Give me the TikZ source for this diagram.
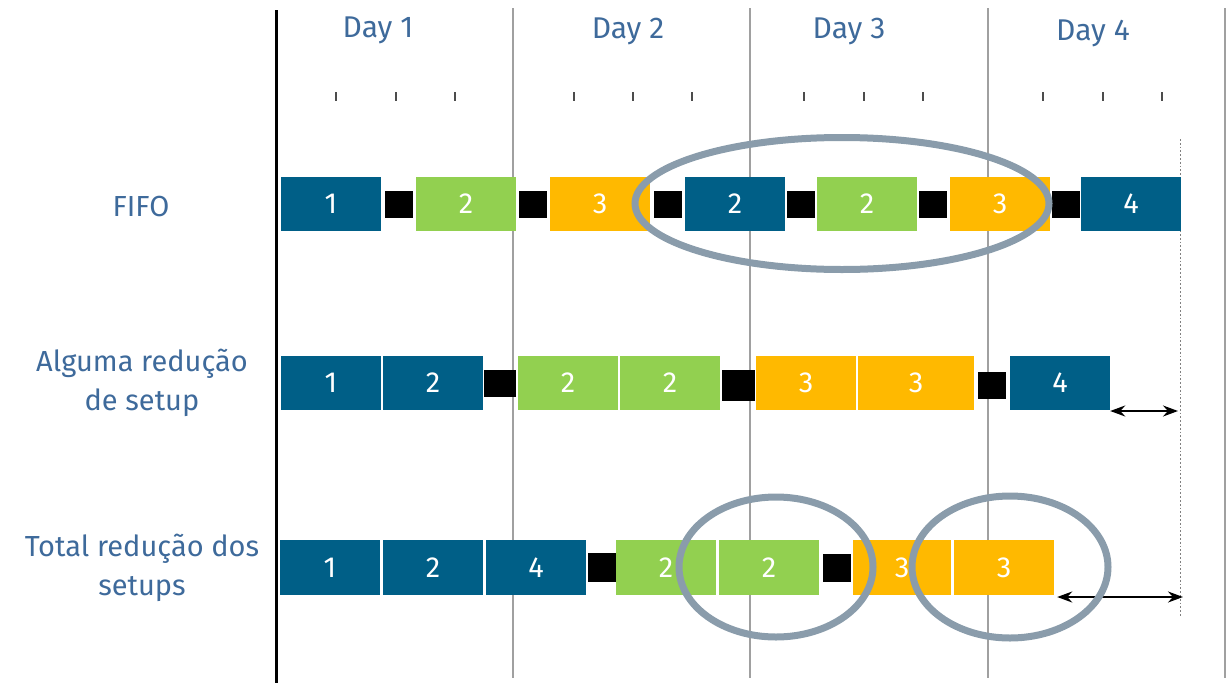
\documentclass[tikz,border=0pt]{standalone}
\usepackage{fontspec}
\setmainfont{Fira Sans}
\usetikzlibrary{arrows.meta,positioning}
\definecolor{petrol}{RGB}{0,95,135}
\definecolor{lime}{RGB}{146,208,80}
\definecolor{gold}{RGB}{255,185,0}
\definecolor{slate}{RGB}{138,156,171}
\definecolor{txtblue}{RGB}{62,106,155}
\definecolor{rule}{RGB}{160,160,160}
\tikzset{
  >={Stealth[length=15pt,width=11pt]},
  job/.style={fill=#1,inner sep=0pt,minimum width=100pt,minimum height=54pt,
    text=white,font=\fontsize{29}{32}\selectfont},
  job/.default=petrol,
  setup/.style={fill=black,inner sep=0pt,minimum width=28pt,minimum height=27pt},
  ring/.style={draw=slate,line width=7pt},
  rowname/.style={text=txtblue,align=center,font=\fontsize{29}{39}\selectfont},
  dayname/.style={text=txtblue,font=\fontsize{30}{32}\selectfont},
  dayline/.style={draw=rule,line width=2pt},
  tick/.style={draw=black!70,line width=1.3pt},
  gap/.style={<->,line width=1.8pt}
}
\begin{document}
\begin{tikzpicture}[x=1pt,y=-1pt]
  \useasboundingbox (0,0) rectangle (1226,683);
  % grid of days
  \foreach \x in {513,750,988,1224.5} \draw[dayline] (\x,8) -- (\x,678);
  \draw[line width=3pt] (276,10) -- (276,683);
  \draw[rule!80!black,dotted,line width=1.8pt] (1180.5,139) -- (1180.5,617);
  \foreach \d/\x/\y in {1/378/30,2/628/31,3/849/31,4/1093/33} \node[dayname] (day\d) at (\x,\y) {Day \d};
  \foreach \x in {336,396,455,574,633,692,804,864,923,1043,1103,1162} \draw[tick] (\x,92) -- (\x,101);
  % row names
  \node[rowname] (fifo) at (141,207) {FIFO};
  \node[rowname] (some) at (142,383) {Alguma redução\\de setup};
  \node[rowname] (total) at (142,568) {Total redução dos\\setups};
  % FIFO
  \foreach \n/\c/\x [count=\i] in {1/petrol/331,2/lime/466,3/gold/600,2/petrol/735,2/lime/867,3/gold/1000,4/petrol/1131}
    \node[job=\c] (fifo\i) at (\x,203.5) {\n};
  \foreach \x [count=\i] in {399,533,668,800.5,933,1065.5} \node[setup] (fs\i) at (\x,204) {};
  % some reduction
  \foreach \n/\c/\x [count=\i] in {1/petrol/331,2/petrol/433,2/lime/568,2/lime/670,3/gold/806}
    \node[job=\c] (some\i) at (\x,383) {\n};
  \node[job=gold,minimum width=116pt] (some6) at (916,383) {3};
  \node[job] (some7) at (1060,383) {4};
  \node[setup,minimum width=32pt] (ss1) at (500,383.5) {};
  \node[setup,minimum width=33pt,minimum height=31pt] (ss2) at (738.5,385.5) {};
  \node[setup] (ss3) at (991.5,385.5) {};
  \coordinate (end2) at (1178,411);
  \draw[gap] (some7.south east |- end2) -- (end2);
  % total reduction
  \foreach \n/\c/\x [count=\i] in {1/petrol/330,2/petrol/433,4/petrol/536,2/lime/666,2/lime/769,3/gold/1004}
    \node[job=\c,minimum height=55pt] (tot\i) at (\x,567.5) {\n};
  \node[job=gold,minimum width=98pt,minimum height=55pt] (tot7) at (902,567.5) {3};
  \node[setup,minimum height=29pt] (ts1) at (601.5,567.5) {};
  \node[setup,minimum height=28pt] (ts2) at (837,568) {};
  \coordinate (end3) at (1183,597);
  \draw[gap] ([xshift=3pt]tot6.south east |- end3) -- (end3);
  % highlights
  \draw[ring] (842,203.5) ellipse [x radius=207pt,y radius=66pt];
  \draw[ring] (776,567) ellipse [x radius=97pt,y radius=70pt];
  \draw[ring] (1010,567) ellipse [x radius=98pt,y radius=71pt];
\end{tikzpicture}
\end{document}
